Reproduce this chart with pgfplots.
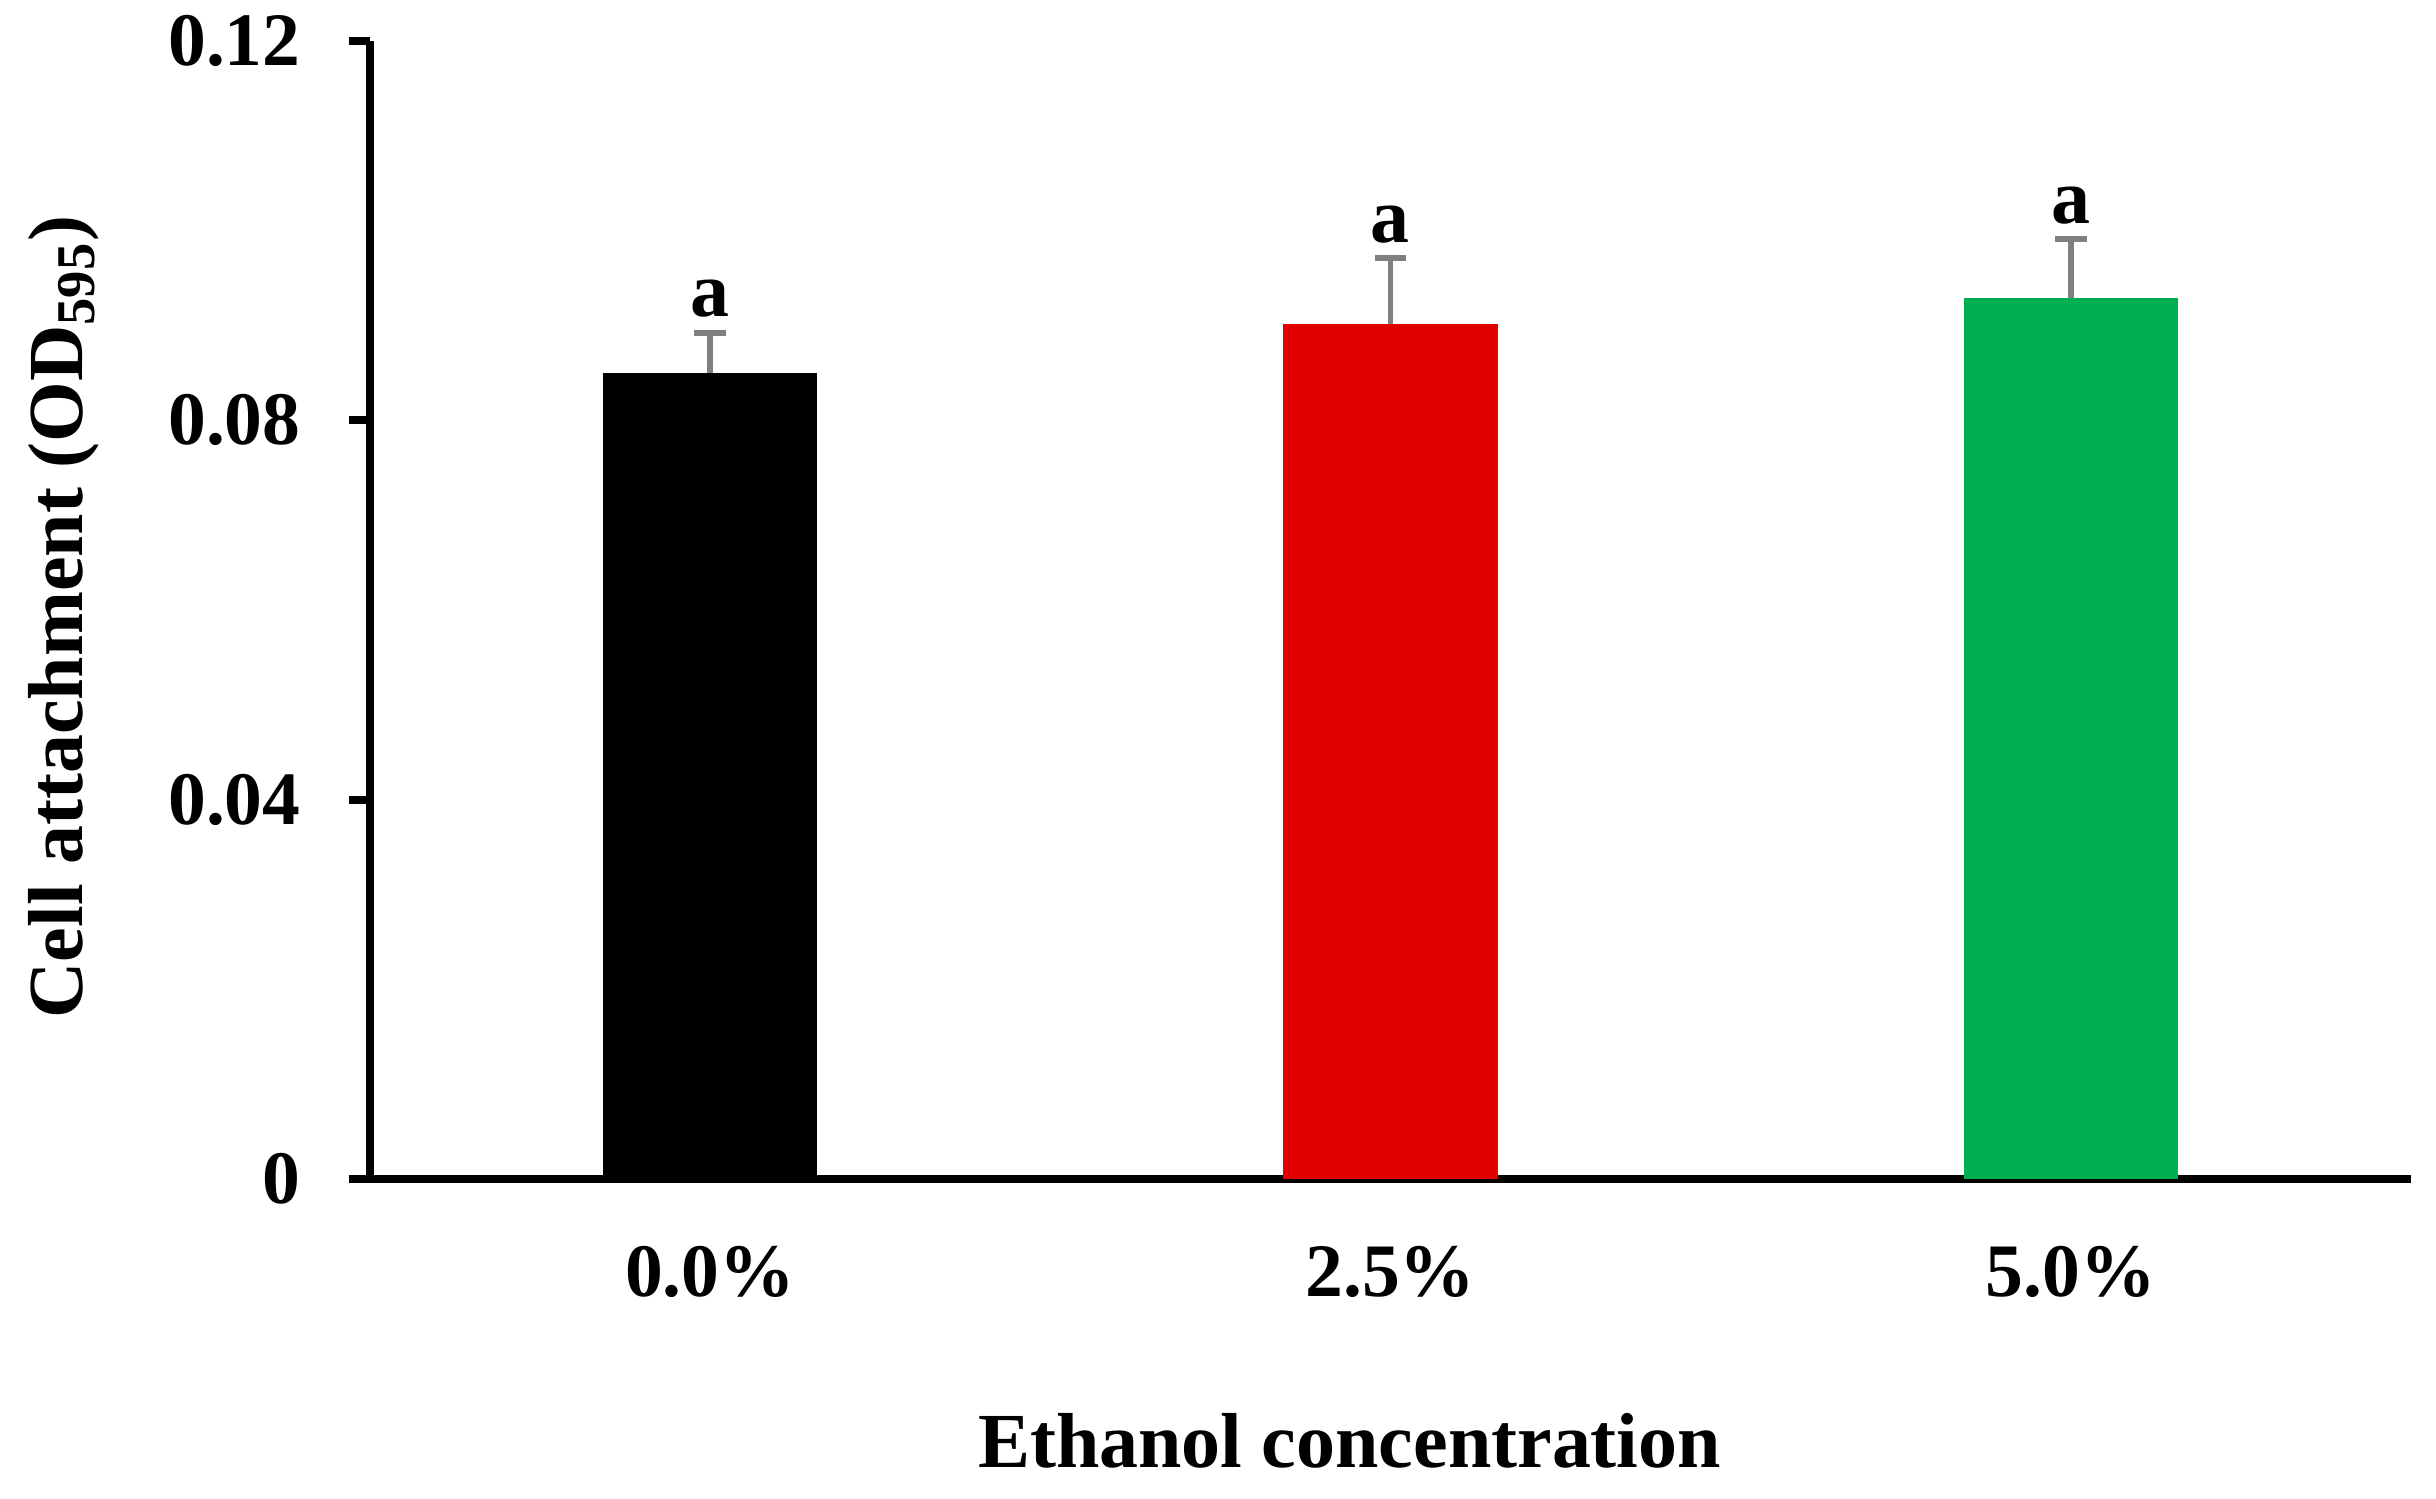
\documentclass[border=0pt]{standalone}
\usepackage{fontspec}
\setmainfont{Liberation Serif}
\usepackage{pgfplots}
\pgfplotsset{compat=1.18}
\definecolor{barred}{HTML}{E00000}
\definecolor{bargreen}{HTML}{00B050}
\definecolor{errgray}{HTML}{808080}
\begin{document}
\begin{tikzpicture}
\begin{axis}[
  scale only axis,
  width=419pt, height=233.6pt,
  xmin=-0.5, xmax=2.5,
  ymin=0, ymax=0.12,
  axis x line=bottom, axis y line=left,
  axis line style={-, line width=1.7pt},
  every tick/.style={black, line width=1.7pt},
  xtick={0,1,2},
  xticklabels={0.0\%,2.5\%,5.0\%},
  xtick align=outside, ytick align=outside,
  x tick style={draw=none},
  extra x ticks={-0.5,0.5,1.5,2.5},
  extra x tick labels={},
  extra x tick style={major tick length=4.7pt, tick style={black, line width=1.7pt}},
  ytick={0,0.04,0.08,0.12},
  yticklabels={0,0.04,0.08,0.12},
  major tick length=4.2pt,
  /pgf/number format/assume math mode=true,
  tick label style={font=\fontsize{15.5}{18}\selectfont\bfseries},
  yticklabel style={anchor=east, xshift=-6.5pt},
  xticklabel style={anchor=base, yshift=-20pt},
  xlabel={\fontsize{16}{18}\selectfont\bfseries Ethanol concentration},
  xlabel style={at={(axis description cs:0.48,0)}, anchor=base, yshift=-59.3pt},
  ylabel={\fontsize{16}{18}\selectfont\bfseries Cell attachment (OD\textsubscript{595})},
  ylabel style={at={(axis description cs:-0.15,0.494)}, anchor=center, rotate=0},
  ybar, bar width=0.315, bar shift=0pt,
  clip=false,
  error bars/y dir=plus, error bars/y explicit,
  error bars/error bar style={errgray, line width=1.2pt},
  error bars/error mark options={errgray, line width=1.2pt, mark size=3.2pt, rotate=90},
]
\addplot[fill=black, draw=none] coordinates {(0,0.0850) +- (0,0.0042)};
\addplot[fill=barred, draw=none] coordinates {(1,0.0902) +- (0,0.0069)};
\addplot[fill=bargreen, draw=none] coordinates {(2,0.0929) +- (0,0.0062)};
\node[anchor=base, yshift=3.3pt, font=\fontsize{16}{18}\selectfont\bfseries] at (axis cs:0,0.0892) {a};
\node[anchor=base, yshift=3.3pt, font=\fontsize{16}{18}\selectfont\bfseries] at (axis cs:1,0.0971) {a};
\node[anchor=base, yshift=3.3pt, font=\fontsize{16}{18}\selectfont\bfseries] at (axis cs:2,0.0991) {a};
\coordinate (sw) at (rel axis cs:0,0);
\end{axis}
\pgfresetboundingbox
\path ([shift={(-75.9pt,-65.5pt)}]sw) rectangle ([shift={(424.1pt,242pt)}]sw);
\end{tikzpicture}
\end{document}
